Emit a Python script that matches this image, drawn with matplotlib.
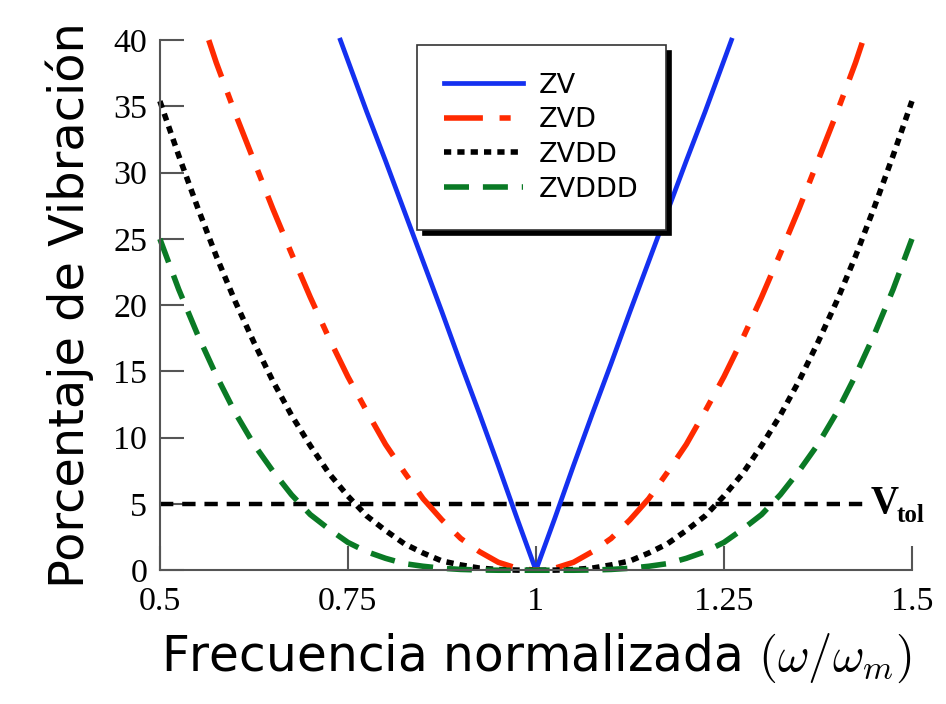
import numpy as np
import matplotlib.pyplot as plt

plt.rcParams['mathtext.fontset'] = 'cm'

# valores (porcentaje de vibracion vs frecuencia normalizada)
x_zv = [0.74, 0.775, 0.8, 0.825, 0.85, 0.875, 0.9, 0.925, 0.95, 0.975, 1.0,
        1.025, 1.05, 1.075, 1.1, 1.125, 1.15, 1.175, 1.2, 1.225, 1.26]
zv = [40.0, 34.6, 30.9, 27.1, 23.3, 19.5, 15.6, 11.8, 7.9, 3.9, 0.0,
      3.9, 7.9, 11.8, 15.6, 19.5, 23.3, 27.1, 30.9, 34.6, 40.0]

x_zvd = [0.565, 0.575, 0.6, 0.625, 0.65, 0.675, 0.7, 0.725, 0.75, 0.775, 0.8,
         0.825, 0.85, 0.875, 0.9, 0.925, 0.95, 0.975, 1.0,
         1.025, 1.05, 1.075, 1.1, 1.125, 1.15, 1.175, 1.2, 1.225, 1.25,
         1.275, 1.3, 1.325, 1.35, 1.375, 1.4, 1.425, 1.435]
zvd = [40.0, 38.3, 34.5, 30.9, 27.3, 23.9, 20.6, 17.5, 14.6, 12.0, 9.5,
       7.4, 5.4, 3.8, 2.4, 1.4, 0.6, 0.15, 0.0,
       0.15, 0.6, 1.4, 2.4, 3.8, 5.4, 7.4, 9.5, 12.0, 14.6,
       17.5, 20.6, 23.9, 27.3, 30.9, 34.5, 38.3, 40.0]

x_full = [0.5, 0.525, 0.55, 0.575, 0.6, 0.625, 0.65, 0.675, 0.7, 0.725, 0.75,
          0.775, 0.8, 0.825, 0.85, 0.875, 0.9, 0.925, 0.95, 0.975, 1.0,
          1.025, 1.05, 1.075, 1.1, 1.125, 1.15, 1.175, 1.2, 1.225, 1.25,
          1.275, 1.3, 1.325, 1.35, 1.375, 1.4, 1.425, 1.45, 1.475, 1.5]
zvdd = [35.4, 31.3, 27.4, 23.7, 20.3, 17.2, 14.3, 11.7, 9.4, 7.3, 5.6,
        4.1, 3.0, 2.0, 1.3, 0.7, 0.4, 0.16, 0.05, 0.01, 0.0,
        0.01, 0.05, 0.16, 0.4, 0.7, 1.3, 2.0, 3.0, 4.1, 5.6,
        7.3, 9.4, 11.7, 14.3, 17.2, 20.3, 23.7, 27.4, 31.3, 35.4]
zvddd = [25.0, 21.2, 17.8, 14.7, 11.9, 9.5, 7.5, 5.7, 4.2, 3.1, 2.1,
         1.4, 0.9, 0.5, 0.3, 0.15, 0.06, 0.02, 0.0, 0.0, 0.0,
         0.0, 0.0, 0.02, 0.06, 0.15, 0.3, 0.5, 0.9, 1.4, 2.1,
         3.1, 4.2, 5.7, 7.5, 9.5, 11.9, 14.7, 17.8, 21.2, 25.0]

v_tol = 5
x_tol = [0.5, 1.44]

xticks = [0.5, 0.75, 1, 1.25, 1.5]
xtick_labels = ["0.5", "0.75", "1", "1.25", "1.5"]
yticks = [0, 5, 10, 15, 20, 25, 30, 35, 40]

fig = plt.figure(figsize=(9.46, 7.04), dpi=100)
ax = fig.add_axes([0.169, 0.19, 0.795, 0.753])

ax.plot(x_tol, [v_tol, v_tol], color="black", lw=3.2, ls=(0, (3, 2)), clip_on=False)
ax.plot(x_zv, zv, color="#1430f0", lw=3.4, label="ZV", clip_on=False)
ax.plot(x_zvd, zvd, color="#ff2a00", lw=4, ls=(0, (7, 3, 2, 3)), label="ZVD", clip_on=False)
ax.plot(x_full, zvdd, color="black", lw=4, ls=(0, (1.3, 1.1)), label="ZVDD", clip_on=False)
ax.plot(x_full, zvddd, color="#0a7a25", lw=4, ls=(0, (4.5, 2.5)), label="ZVDDD", clip_on=False)

ax.text(1.445, v_tol, "V", fontsize=28, fontweight="bold", family="Liberation Serif",
        ha="left", va="center")
ax.text(1.479, v_tol - 0.9, "tol", fontsize=18, fontweight="bold", family="Liberation Serif",
        ha="left", va="center")

ax.set_xlim(0.5, 1.5)
ax.set_ylim(0, 40)
ax.set_xticks(xticks)
ax.set_xticklabels(xtick_labels)
ax.set_yticks(yticks)
for lab in ax.get_xticklabels() + ax.get_yticklabels():
    lab.set_family("Liberation Serif")
    lab.set_fontsize(24.5)
ax.tick_params(direction="in", length=17, width=1.5, color="#555555", pad=9)
ax.tick_params(axis="x", pad=12)

for side in ["top", "right"]:
    ax.spines[side].set_visible(False)
for side in ["left", "bottom"]:
    ax.spines[side].set_color("#555555")
    ax.spines[side].set_linewidth(1.5)

ax.set_xlabel(r"Frecuencia normalizada $(\omega/\omega_m)$", fontsize=35, labelpad=10)
ax.set_ylabel("Porcentaje de Vibración", fontsize=34.5, labelpad=14)

leg = ax.legend(loc="upper left", bbox_to_anchor=(0.342, 0.99), borderaxespad=0,
                fontsize=19.5, fancybox=False,
                shadow={"color": "black", "alpha": 1, "ox": 4, "oy": -4},
                framealpha=1, edgecolor="#333333",
                handlelength=2.9, labelspacing=0.32, borderpad=1.0, handletextpad=0.6)
leg.get_frame().set_linewidth(1.2)

fig.savefig("out.png", dpi=100)
